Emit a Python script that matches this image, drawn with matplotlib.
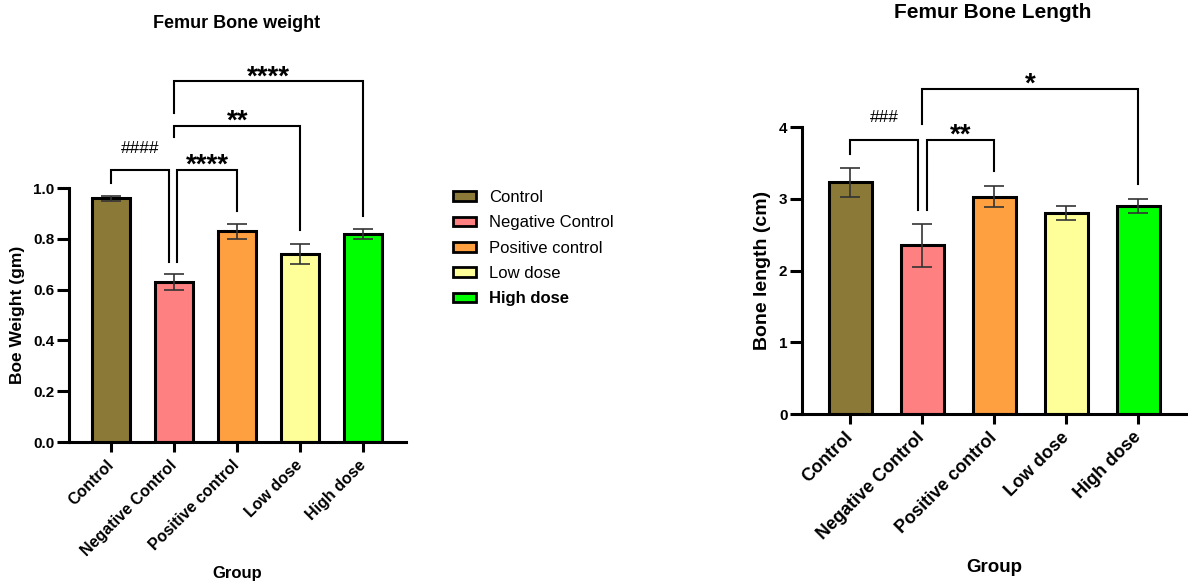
import matplotlib.pyplot as plt
from matplotlib.patches import Patch

plt.rcParams['font.family'] = ['Liberation Sans', 'DejaVu Sans']

groups = ['Control', 'Negative Control', 'Positive control', 'Low dose', 'High dose']
colors = ['#8B7A37', '#FF8080', '#FFA040', '#FFFF99', '#00FF00']

weight_mean = [0.96, 0.63, 0.83, 0.74, 0.82]
weight_err = [0.01, 0.03, 0.03, 0.04, 0.02]

length_mean = [3.23, 2.35, 3.03, 2.80, 2.90]
length_err = [0.20, 0.30, 0.15, 0.10, 0.10]

# significance brackets: (left x, right x, top, left leg end, right leg end, label)
weight_sig = [(0, 0.92, 1.07, 1.02, 0.71, '####'),
              (1.05, 2, 1.07, 0.71, 0.91, '****'),
              (1, 3, 1.245, 1.20, 0.835, '**'),
              (1, 4, 1.42, 1.295, 0.89, '****')]
length_sig = [(0, 0.94, 3.82, 3.63, 2.85, '###'),
              (1.07, 2, 3.82, 2.85, 3.39, '**'),
              (1, 4, 4.53, 4.04, 3.21, '*')]


def draw(ax, means, errs, sig, ymax, yticks, ylabel, fs, yfs, xpad):
    x = range(len(groups))
    ax.bar(x, means, width=0.6, color=colors, edgecolor='black', linewidth=2.2, zorder=2)
    ax.errorbar(x, means, yerr=errs, fmt='none', ecolor='#333333', elinewidth=1.2,
                capsize=7.5, capthick=1.2, zorder=3)
    for x1, x2, top, l1, l2, lab in sig:
        ax.plot([x1, x1, x2, x2], [l1, top, top, l2], color='black', lw=1.5,
                clip_on=False, solid_joinstyle='miter')
        if lab[0] == '#':
            ax.annotate(lab, ((x1 + x2) / 2, top), xytext=(0, 16), textcoords='offset points',
                        ha='center', va='center', fontsize=12.5, annotation_clip=False)
        else:
            ax.annotate(lab, ((x1 + x2) / 2, top), xytext=(0, 3), textcoords='offset points',
                        ha='center', va='center', fontsize=20, fontweight='bold',
                        annotation_clip=False)
    ax.set_xlim(-0.67, 4.68)
    ax.set_ylim(0, ymax)
    ax.set_yticks(yticks)
    ax.set_xticks(list(x))
    ax.set_xticklabels(groups, rotation=45, ha='right', va='center', rotation_mode='anchor',
                       fontweight='bold', fontsize=fs)
    for t in ax.get_yticklabels():
        t.set_fontweight('bold')
        t.set_fontsize(11)
    for s in ['top', 'right']:
        ax.spines[s].set_visible(False)
    for s in ['left', 'bottom']:
        ax.spines[s].set_linewidth(2.2)
    ax.tick_params(axis='y', length=8.5, width=2.2, pad=2)
    ax.tick_params(axis='x', length=7, width=2.2, pad=8)
    ax.set_ylabel(ylabel, fontweight='bold', fontsize=yfs, labelpad=6)
    ax.set_xlabel('Group', fontweight='bold', fontsize=fs + 0.5, labelpad=xpad)


fig = plt.figure(figsize=(11.88, 5.85), dpi=100)
ax1 = fig.add_axes([0.0581, 0.2444, 0.2837, 0.4342])
ax2 = fig.add_axes([0.6751, 0.2923, 0.3241, 0.4906])

draw(ax1, weight_mean, weight_err, weight_sig, 1.0, [0.0, 0.2, 0.4, 0.6, 0.8, 1.0],
     'Boe Weight (gm)', 11.5, 12.5, 5)
ax1.set_yticklabels(['0.0', '0.2', '0.4', '0.6', '0.8', '1.0'], fontweight='bold', fontsize=11)
draw(ax2, length_mean, length_err, length_sig, 4, [0, 1, 2, 3, 4], 'Bone length (cm)', 13, 14, 12)

fig.text(0.1995, 0.959, 'Femur Bone weight', ha='center', va='center', fontweight='bold', fontsize=13)
fig.text(0.836, 0.978, 'Femur Bone Length', ha='center', va='center', fontweight='bold', fontsize=15)

handles = [Patch(facecolor=c, edgecolor='black', linewidth=2) for c in colors]
leg = fig.legend(handles, groups, loc='upper left', bbox_to_anchor=(453 / 1188, 1 - 190 / 585),
                 frameon=False, fontsize=12, handlelength=1.35, handleheight=0.5,
                 handletextpad=0.8, labelspacing=0.62, borderpad=0, borderaxespad=0)
leg.get_texts()[-1].set_fontweight('bold')

fig.savefig('out.png', dpi=100)
